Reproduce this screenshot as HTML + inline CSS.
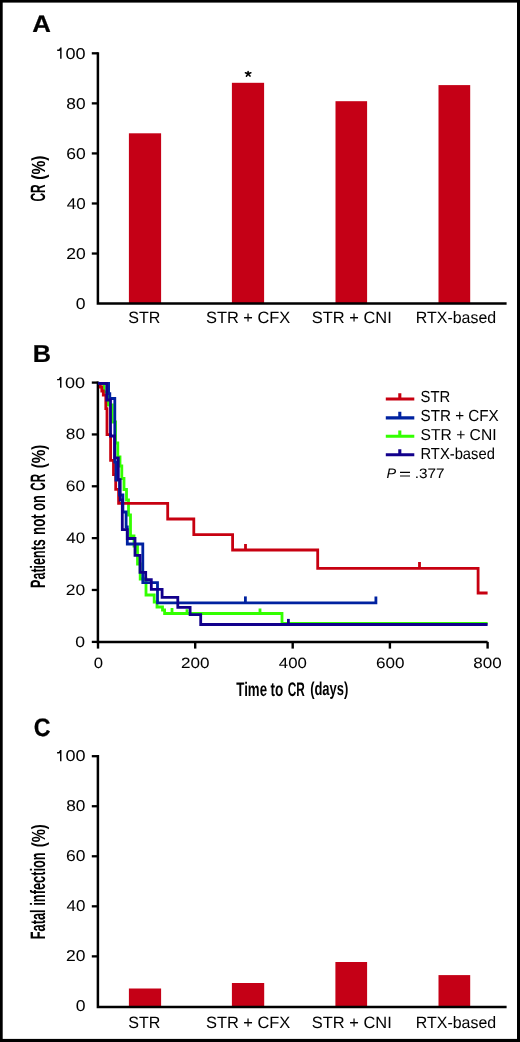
<!DOCTYPE html>
<html><head><meta charset="utf-8"><title>Figure</title>
<style>html,body{margin:0;padding:0;background:#fff;}svg{display:block;}</style>
</head><body>
<svg width="520" height="1042" viewBox="0 0 520 1042">
<rect x="0" y="0" width="520" height="1042" fill="#000"/>
<rect x="2.7" y="2.6" width="514.3" height="1036.3" fill="#fff"/>
<rect x="128.9" y="133.3" width="32.20" height="170.30" fill="#C50016"/>
<rect x="231.9" y="82.8" width="32.20" height="220.80" fill="#C50016"/>
<rect x="335.5" y="101.2" width="31.60" height="202.40" fill="#C50016"/>
<rect x="438.5" y="85.1" width="31.70" height="218.50" fill="#C50016"/>
<rect x="128.9" y="988.5" width="32.20" height="18.60" fill="#C50016"/>
<rect x="231.9" y="983.0" width="32.30" height="24.10" fill="#C50016"/>
<rect x="335.4" y="962.0" width="31.70" height="45.10" fill="#C50016"/>
<rect x="438.5" y="975.1" width="31.70" height="32.00" fill="#C50016"/>
<path d="M97.9,52.199999999999996 V303.6 H506.6" fill="none" stroke="#000" stroke-width="2.5" stroke-linejoin="miter"/>
<line x1="91.8" y1="53.3" x2="97.9" y2="53.3" stroke="#000" stroke-width="2.3"/>
<line x1="91.8" y1="103.36" x2="97.9" y2="103.36" stroke="#000" stroke-width="2.3"/>
<line x1="91.8" y1="153.42000000000002" x2="97.9" y2="153.42000000000002" stroke="#000" stroke-width="2.3"/>
<line x1="91.8" y1="203.48000000000002" x2="97.9" y2="203.48000000000002" stroke="#000" stroke-width="2.3"/>
<line x1="91.8" y1="253.54000000000002" x2="97.9" y2="253.54000000000002" stroke="#000" stroke-width="2.3"/>
<path d="M97.9,755.1 V1007.1 H506.6" fill="none" stroke="#000" stroke-width="2.5" stroke-linejoin="miter"/>
<line x1="91.8" y1="756.2" x2="97.9" y2="756.2" stroke="#000" stroke-width="2.3"/>
<line x1="91.8" y1="806.24" x2="97.9" y2="806.24" stroke="#000" stroke-width="2.3"/>
<line x1="91.8" y1="856.2800000000001" x2="97.9" y2="856.2800000000001" stroke="#000" stroke-width="2.3"/>
<line x1="91.8" y1="906.32" x2="97.9" y2="906.32" stroke="#000" stroke-width="2.3"/>
<line x1="91.8" y1="956.36" x2="97.9" y2="956.36" stroke="#000" stroke-width="2.3"/>
<path d="M97.9,381.4 V641.9 H487.6" fill="none" stroke="#000" stroke-width="2.5"/>
<line x1="91.8" y1="382.6" x2="97.9" y2="382.6" stroke="#000" stroke-width="2.3"/>
<line x1="91.8" y1="434.44000000000005" x2="97.9" y2="434.44000000000005" stroke="#000" stroke-width="2.3"/>
<line x1="91.8" y1="486.28000000000003" x2="97.9" y2="486.28000000000003" stroke="#000" stroke-width="2.3"/>
<line x1="91.8" y1="538.12" x2="97.9" y2="538.12" stroke="#000" stroke-width="2.3"/>
<line x1="91.8" y1="589.96" x2="97.9" y2="589.96" stroke="#000" stroke-width="2.3"/>
<line x1="91.8" y1="641.9" x2="97.9" y2="641.9" stroke="#000" stroke-width="2.3"/>
<line x1="98.0" y1="641.9" x2="98.0" y2="648.6" stroke="#000" stroke-width="2.4"/>
<line x1="195.2" y1="641.9" x2="195.2" y2="648.6" stroke="#000" stroke-width="2.4"/>
<line x1="292.7" y1="641.9" x2="292.7" y2="648.6" stroke="#000" stroke-width="2.4"/>
<line x1="389.9" y1="641.9" x2="389.9" y2="648.6" stroke="#000" stroke-width="2.4"/>
<line x1="487.6" y1="641.9" x2="487.6" y2="648.6" stroke="#000" stroke-width="2.4"/>
<path d="M248.1,73.8 L248.1,71.5 M248.1,73.8 L245.4,72.7 M248.1,73.8 L250.9,72.7 M248.1,73.8 L246.4,76.2 M248.1,73.8 L250.0,76.1" stroke="#000" stroke-width="1.55" stroke-linecap="round" fill="none"/>
<path d="M57.20,50.20 H59.45 L60.85,47.80 M60.85,47.60 V58.80" fill="none" stroke="#000" stroke-width="1.45" stroke-linejoin="round"/>
<path d="M57.10,379.60 H59.35 L60.75,377.20 M60.75,377.00 V387.80" fill="none" stroke="#000" stroke-width="1.45" stroke-linejoin="round"/>
<path d="M57.10,752.70 H59.35 L60.75,750.30 M60.75,750.10 V761.30" fill="none" stroke="#000" stroke-width="1.45" stroke-linejoin="round"/>
<path d="M98,383.3 H104 V392 H107.8 V405 H112.3 V422 H115.5 V443 H117.8 V457 H120 V466 H121.8 V478.5 H124 V489.5 H126.5 V500 H128.5 V515 H130.5 V536 H134 V546 H137.5 V564 H140.2 V579 H146 V595 H154.2 V602 H157 V607 H162.5 V610 H164.6 V613.5 H282 V623.4 H487.6" fill="none" stroke="#33FF00" stroke-width="2.8" stroke-linejoin="miter" stroke-linecap="butt"/>
<path d="M172,613.5 V608 M187,613.5 V609.2 M260,613.5 V608.6" fill="none" stroke="#33FF00" stroke-width="2.8" stroke-linejoin="miter" stroke-linecap="butt"/>
<path d="M98,383.3 H100.3 V387 H101.8 V391 H103.3 V395 H105.8 V408.7 H107 V434.7 H110.6 V460.4 H113.5 V474.6 H115.7 V489.3 H118.6 V503.4 H167.7 V519 H193.8 V534.7 H232.6 V550 H317.7 V568.4 H478.1 V593 H487.6" fill="none" stroke="#C70010" stroke-width="2.8" stroke-linejoin="miter" stroke-linecap="butt"/>
<path d="M245.5,550 V544.1 M419.5,568.4 V561.9" fill="none" stroke="#C70010" stroke-width="2.8" stroke-linejoin="miter" stroke-linecap="butt"/>
<path d="M98,383.3 H108.6 V393.6 H109.8 V398.5 H114.8 V462 H116 V480 H119.5 V495 H122.9 V512 H126.1 V527 H127.3 V544 H142.8 V582.7 H157.5 V602.9 H375.9 V596.5" fill="none" stroke="#0022A0" stroke-width="2.8" stroke-linejoin="miter" stroke-linecap="butt"/>
<path d="M245.4,602.9 V596.4" fill="none" stroke="#0022A0" stroke-width="2.8" stroke-linejoin="miter" stroke-linecap="butt"/>
<path d="M98,383.3 H106.8 V400 H110.5 V436 H114.6 V458 H118.3 V479.6 H120.2 V500 H122.3 V529.6 H127.3 V538.5 H135 V555.4 H140 V572.3 H145.7 V579.6 H151.3 V589.4 H162.1 V597.4 H177.8 V607.3 H190.1 V614.6 H200.7 V624.5 H487.6" fill="none" stroke="#12008C" stroke-width="2.8" stroke-linejoin="miter" stroke-linecap="butt"/>
<path d="M288.4,624.5 V618.9" fill="none" stroke="#12008C" stroke-width="2.8" stroke-linejoin="miter" stroke-linecap="butt"/>
<path d="M385.8,399.0 H414.3 M399.8,399.0 V393.2" fill="none" stroke="#C70010" stroke-width="3.1"/>
<path d="M385.8,417.9 H414.3 M399.8,417.9 V411.7" fill="none" stroke="#0022A0" stroke-width="3.1"/>
<path d="M385.8,436.2 H414.3 M399.8,436.2 V430.4" fill="none" stroke="#33FF00" stroke-width="3.1"/>
<path d="M385.8,454.7 H414.3 M399.8,454.7 V449.2" fill="none" stroke="#12008C" stroke-width="3.1"/>
<g opacity="0.999" text-rendering="geometricPrecision" font-family='"Liberation Sans", sans-serif' font-size="100" fill="#000">
<text transform="matrix(0.25758 0 0 0.23857 32.277 32.350)" font-weight="bold" stroke="#000" stroke-width="1.0" stroke-linejoin="miter" vector-effect="non-scaling-stroke">A</text>
<text transform="matrix(0.25246 0 0 0.24493 32.683 362.050)" font-weight="bold" stroke="#000" stroke-width="1.0" stroke-linejoin="miter" vector-effect="non-scaling-stroke">B</text>
<text transform="matrix(0.23231 0 0 0.25211 33.821 735.598)" font-weight="bold" stroke="#000" stroke-width="1.0" stroke-linejoin="miter" vector-effect="non-scaling-stroke">C</text>
<text transform="matrix(0.18078 0 0 0.15662 65.517 58.603)" stroke="#000" stroke-width="0.28" vector-effect="non-scaling-stroke">00</text>
<text transform="matrix(0.17301 0 0 0.15662 66.348 108.663)" stroke="#000" stroke-width="0.28" vector-effect="non-scaling-stroke">80</text>
<text transform="matrix(0.17471 0 0 0.15662 66.166 158.723)" stroke="#000" stroke-width="0.28" vector-effect="non-scaling-stroke">60</text>
<text transform="matrix(0.16971 0 0 0.15662 66.701 208.783)" stroke="#000" stroke-width="0.28" vector-effect="non-scaling-stroke">40</text>
<text transform="matrix(0.17471 0 0 0.15662 66.166 258.843)" stroke="#000" stroke-width="0.28" vector-effect="non-scaling-stroke">20</text>
<text transform="matrix(0.17542 0 0 0.15662 75.738 308.903)" stroke="#000" stroke-width="0.28" vector-effect="non-scaling-stroke">0</text>
<text transform="matrix(0.18078 0 0 0.15099 65.017 387.609)" stroke="#000" stroke-width="0.28" vector-effect="non-scaling-stroke">00</text>
<text transform="matrix(0.17301 0 0 0.15099 65.848 439.449)" stroke="#000" stroke-width="0.28" vector-effect="non-scaling-stroke">80</text>
<text transform="matrix(0.17471 0 0 0.15099 65.666 491.289)" stroke="#000" stroke-width="0.28" vector-effect="non-scaling-stroke">60</text>
<text transform="matrix(0.16971 0 0 0.15099 66.201 543.129)" stroke="#000" stroke-width="0.28" vector-effect="non-scaling-stroke">40</text>
<text transform="matrix(0.17471 0 0 0.15099 65.666 594.969)" stroke="#000" stroke-width="0.28" vector-effect="non-scaling-stroke">20</text>
<text transform="matrix(0.17542 0 0 0.15099 75.238 646.809)" stroke="#000" stroke-width="0.28" vector-effect="non-scaling-stroke">0</text>
<text transform="matrix(0.18078 0 0 0.15662 65.417 761.103)" stroke="#000" stroke-width="0.28" vector-effect="non-scaling-stroke">00</text>
<text transform="matrix(0.17301 0 0 0.15662 66.248 811.143)" stroke="#000" stroke-width="0.28" vector-effect="non-scaling-stroke">80</text>
<text transform="matrix(0.17471 0 0 0.15662 66.066 861.183)" stroke="#000" stroke-width="0.28" vector-effect="non-scaling-stroke">60</text>
<text transform="matrix(0.16971 0 0 0.15662 66.601 911.223)" stroke="#000" stroke-width="0.28" vector-effect="non-scaling-stroke">40</text>
<text transform="matrix(0.17471 0 0 0.15662 66.066 961.263)" stroke="#000" stroke-width="0.28" vector-effect="non-scaling-stroke">20</text>
<text transform="matrix(0.17542 0 0 0.15662 75.638 1011.303)" stroke="#000" stroke-width="0.28" vector-effect="non-scaling-stroke">0</text>
<text transform="matrix(0.16063 0 0 0.16366 128.337 323.396)" stroke="#000" stroke-width="0.28" vector-effect="non-scaling-stroke">STR</text>
<text transform="matrix(0.16375 0 0 0.16366 206.021 323.396)" stroke="#000" stroke-width="0.28" vector-effect="non-scaling-stroke">STR + CFX</text>
<text transform="matrix(0.16445 0 0 0.16366 311.818 323.396)" stroke="#000" stroke-width="0.28" vector-effect="non-scaling-stroke">STR + CNI</text>
<text transform="matrix(0.15955 0 0 0.16366 415.764 323.396)" stroke="#000" stroke-width="0.28" vector-effect="non-scaling-stroke">RTX-based</text>
<text transform="matrix(0.16063 0 0 0.16366 128.337 1027.896)" stroke="#000" stroke-width="0.28" vector-effect="non-scaling-stroke">STR</text>
<text transform="matrix(0.16375 0 0 0.16366 206.021 1027.896)" stroke="#000" stroke-width="0.28" vector-effect="non-scaling-stroke">STR + CFX</text>
<text transform="matrix(0.16445 0 0 0.16366 311.818 1027.896)" stroke="#000" stroke-width="0.28" vector-effect="non-scaling-stroke">STR + CNI</text>
<text transform="matrix(0.15955 0 0 0.16366 415.764 1027.896)" stroke="#000" stroke-width="0.28" vector-effect="non-scaling-stroke">RTX-based</text>
<text transform="matrix(0.16708 0 0 0.14817 93.772 667.612)" stroke="#000" stroke-width="0.28" vector-effect="non-scaling-stroke">0</text>
<text transform="matrix(0.17101 0 0 0.14817 181.085 667.612)" stroke="#000" stroke-width="0.28" vector-effect="non-scaling-stroke">200</text>
<text transform="matrix(0.16783 0 0 0.14817 278.804 667.612)" stroke="#000" stroke-width="0.28" vector-effect="non-scaling-stroke">400</text>
<text transform="matrix(0.17101 0 0 0.14817 375.885 667.612)" stroke="#000" stroke-width="0.28" vector-effect="non-scaling-stroke">600</text>
<text transform="matrix(0.16994 0 0 0.14817 473.360 667.612)" stroke="#000" stroke-width="0.28" vector-effect="non-scaling-stroke">800</text>
<text transform="matrix(0.14853 0 0 0.16085 420.597 402.499)" stroke="#000" stroke-width="0.28" vector-effect="non-scaling-stroke">STR</text>
<text transform="matrix(0.15191 0 0 0.16085 420.580 421.199)" stroke="#000" stroke-width="0.28" vector-effect="non-scaling-stroke">STR + CFX</text>
<text transform="matrix(0.15619 0 0 0.15803 420.559 439.902)" stroke="#000" stroke-width="0.28" vector-effect="non-scaling-stroke">STR + CNI</text>
<text transform="matrix(0.14769 0 0 0.15944 420.458 458.501)" stroke="#000" stroke-width="0.28" vector-effect="non-scaling-stroke">RTX-based</text>
<text transform="matrix(0.14476 0 0 0.13690 386.406 478.423)" font-style="italic" stroke="#000" stroke-width="0.28" vector-effect="non-scaling-stroke">P</text>
<text transform="matrix(0.15370 0 0 0.13690 414.757 478.423)" stroke="#000" stroke-width="0.28" vector-effect="non-scaling-stroke">.377</text>
<text transform="matrix(0.20612 0 0 0.14688 399.069 479.097)" >=</text>
<text transform="matrix(0 -0.11957 0.20725 0 45.300 201.578)" font-weight="bold" >CR</text>
<text transform="matrix(0 -0.15479 0.19043 0 44.701 179.674)" font-weight="bold" >(%)</text>
<text transform="matrix(0 -0.12513 0.20870 0 45.200 587.876)" font-weight="bold" >Patients</text>
<text transform="matrix(0 -0.13333 0.20870 0 45.200 534.933)" font-weight="bold" >not</text>
<text transform="matrix(0 -0.12679 0.20870 0 45.200 510.707)" font-weight="bold" >on</text>
<text transform="matrix(0 -0.11667 0.20870 0 45.200 490.767)" font-weight="bold" >CR</text>
<text transform="matrix(0 -0.15205 0.19043 0 44.701 468.360)" font-weight="bold" >(%)</text>
<text transform="matrix(0 -0.12831 0.20870 0 45.200 939.298)" font-weight="bold" >Fatal</text>
<text transform="matrix(0 -0.12804 0.20870 0 45.200 905.696)" font-weight="bold" >infection</text>
<text transform="matrix(0 -0.14795 0.19043 0 44.701 847.240)" font-weight="bold" >(%)</text>
<text transform="matrix(0.13304 0 0 0.19710 236.267 695.600)" font-weight="bold" >Time</text>
<text transform="matrix(0.13596 0 0 0.19710 270.564 695.600)" font-weight="bold" >to</text>
<text transform="matrix(0.11812 0 0 0.19710 287.728 695.600)" font-weight="bold" >CR</text>
<text transform="matrix(0.12947 0 0 0.18723 310.153 695.468)" font-weight="bold" >(days)</text>
</g>
</svg>
</body></html>
